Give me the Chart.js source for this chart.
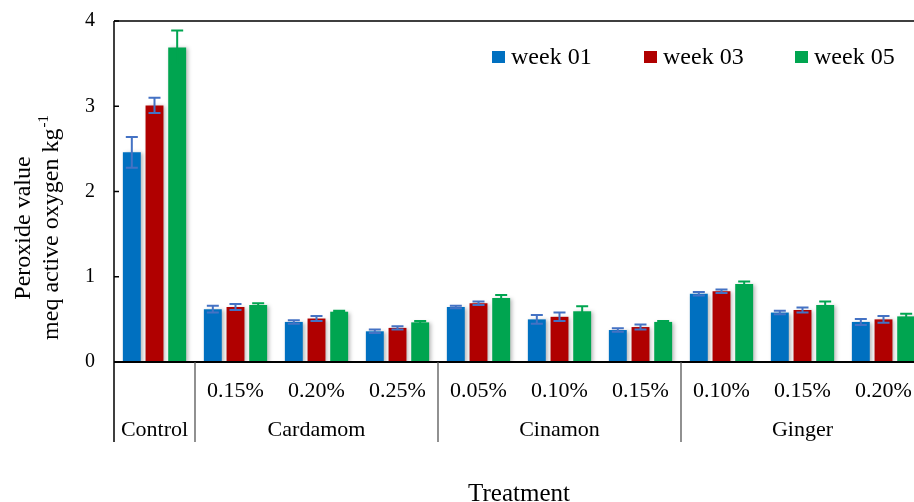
<!DOCTYPE html>
<html>
<head>
<meta charset="utf-8">
<script src="https://cdn.jsdelivr.net/npm/chart.js"></script>
<style>
  html, body { margin: 0; padding: 0; background: #fff; overflow: hidden; }
  #wrap { width: 924px; height: 502px; }
</style>
</head>
<body>
<div id="wrap"><canvas id="myChart"></canvas></div>
<script>
// tick labels under each bar group, and the treatment groups below them
const concentrations = ['', '0.15%', '0.20%', '0.25%', '0.05%', '0.10%', '0.15%', '0.10%', '0.15%', '0.20%'];
const groupNames = ['Control', 'Cardamom', 'Cinamon', 'Ginger'];
const groupSizes = [1, 3, 3, 3];

const seriesNames = ['week 01', 'week 03', 'week 05'];

const week01 = [2.46, 0.62, 0.47, 0.36, 0.645, 0.50, 0.375, 0.80, 0.58, 0.47];
const week03 = [3.01, 0.645, 0.51, 0.40, 0.69, 0.53, 0.41, 0.83, 0.61, 0.50];
const week05 = [3.69, 0.67, 0.59, 0.465, 0.75, 0.595, 0.47, 0.915, 0.67, 0.535];

// standard deviation for the error bars
const week01Err = [0.18, 0.04, 0.02, 0.02, 0.015, 0.05, 0.02, 0.02, 0.02, 0.035];
const week03Err = [0.09, 0.035, 0.03, 0.02, 0.02, 0.05, 0.03, 0.02, 0.03, 0.04];
const week05Err = [0.20, 0.02, 0.01, 0.015, 0.035, 0.06, 0.01, 0.03, 0.04, 0.03];

const yTicks = [0, 1, 2, 3, 4];

const colors = ['#0070C0', '#B00000', '#00A550'];
const errColors = ['#4472C4', '#4472C4', '#00A550'];
const FONT = "'Liberation Serif', 'Times New Roman', serif";

const values = [week01, week03, week05];
const errors = [week01Err, week03Err, week05Err];

const overlay = {
  id: 'overlay',
  beforeDatasetsDraw(chart) {
    const ctx = chart.ctx;
    ctx.save();
    ctx.shadowColor = 'rgba(0,0,0,0.28)';
    ctx.shadowBlur = 4;
    ctx.shadowOffsetX = 2;
    ctx.shadowOffsetY = 1;
  },
  afterDatasetsDraw(chart) {
    const ctx = chart.ctx;
    ctx.restore();
    const y = chart.scales.y;
    // error bars
    for (let i = 0; i < values.length; i++) {
      const meta = chart.getDatasetMeta(i);
      ctx.save();
      ctx.strokeStyle = errColors[i];
      ctx.lineWidth = 2;
      meta.data.forEach((bar, j) => {
        const top = y.getPixelForValue(values[i][j] + errors[i][j]);
        const bot = y.getPixelForValue(values[i][j] - errors[i][j]);
        ctx.beginPath();
        ctx.moveTo(bar.x, top); ctx.lineTo(bar.x, bot);
        ctx.moveTo(bar.x - 6, top); ctx.lineTo(bar.x + 6, top);
        ctx.moveTo(bar.x - 6, bot); ctx.lineTo(bar.x + 6, bot);
        ctx.stroke();
      });
      ctx.restore();
    }
  },
  afterDraw(chart) {
    const ctx = chart.ctx;
    const a = chart.chartArea;
    const x = chart.scales.x;
    const y = chart.scales.y;
    const catW = (a.right - a.left) / concentrations.length;
    ctx.save();

    // frame: top and left lines
    ctx.strokeStyle = '#000';
    ctx.lineWidth = 1.5;
    ctx.beginPath();
    ctx.moveTo(a.left, a.top); ctx.lineTo(a.right, a.top);
    ctx.moveTo(a.left, a.top); ctx.lineTo(a.left, 442);
    ctx.stroke();
    // inner tick marks on y
    yTicks.forEach(v => {
      const py = y.getPixelForValue(v);
      ctx.beginPath();
      ctx.moveTo(a.left, py); ctx.lineTo(a.left + 5, py);
      ctx.stroke();
    });
    // x axis line
    ctx.lineWidth = 2;
    ctx.beginPath();
    ctx.moveTo(a.left, a.bottom); ctx.lineTo(a.right, a.bottom);
    ctx.stroke();

    // group separators
    ctx.strokeStyle = '#555';
    ctx.lineWidth = 1.3;
    let idx = 0;
    groupSizes.forEach(n => {
      idx += n;
      const px = a.left + idx * catW;
      ctx.beginPath();
      ctx.moveTo(px, a.bottom); ctx.lineTo(px, 442);
      ctx.stroke();
    });

    // concentration labels
    ctx.fillStyle = '#000';
    ctx.textAlign = 'center';
    ctx.textBaseline = 'alphabetic';
    ctx.font = '22px ' + FONT;
    concentrations.forEach((c, i) => {
      ctx.fillText(c, x.getPixelForValue(i), 397);
    });
    // group labels
    idx = 0;
    groupNames.forEach((g, k) => {
      const cx = a.left + (idx + groupSizes[k] / 2) * catW;
      ctx.fillText(g, cx, 436);
      idx += groupSizes[k];
    });
    // x title
    ctx.font = '25px ' + FONT;
    ctx.fillText('Treatment', (a.left + a.right) / 2, 501);

    // y title (two lines, rotated)
    ctx.save();
    ctx.translate(0, 228);
    ctx.rotate(-Math.PI / 2);
    ctx.textAlign = 'center';
    ctx.font = '24px ' + FONT;
    ctx.fillText('Peroxide value', 0, 30);
    const main = 'meq active oxygen kg';
    const w1 = ctx.measureText(main).width;
    ctx.font = '15px ' + FONT;
    const w2 = ctx.measureText('-1').width;
    const start = -(w1 + w2) / 2;
    ctx.textAlign = 'left';
    ctx.font = '24px ' + FONT;
    ctx.fillText(main, start, 58);
    ctx.font = '15px ' + FONT;
    ctx.fillText('-1', start + w1 + 1, 48);
    ctx.restore();

    // legend inside the plot
    const legX = [492, 644, 795];
    ctx.font = '24px ' + FONT;
    ctx.textAlign = 'left';
    seriesNames.forEach((s, i) => {
      ctx.fillStyle = colors[i];
      ctx.fillRect(legX[i], 51, 13, 12);
      ctx.fillStyle = '#000';
      ctx.fillText(s, legX[i] + 19, 63.5);
    });

    ctx.restore();
  }
};

const ctx = document.getElementById('myChart');
new Chart(ctx, {
  type: 'bar',
  data: {
    labels: concentrations,
    datasets: seriesNames.map((s, i) => ({
      label: s,
      data: values[i],
      backgroundColor: colors[i],
      borderWidth: 0,
      categoryPercentage: 0.84,
      barPercentage: 0.79
    }))
  },
  options: {
    responsive: true,
    maintainAspectRatio: false,
    animation: false,
    devicePixelRatio: 1,
    layout: { padding: { top: 21, right: 0, bottom: 0, left: 0 } },
    plugins: {
      legend: { display: false },
      tooltip: { enabled: false }
    },
    scales: {
      x: {
        offset: true,
        grid: { display: false },
        border: { display: false },
        ticks: { display: false },
        afterFit(s) { s.height = 140; }
      },
      y: {
        min: 0,
        max: 4,
        grid: { display: false, drawTicks: false },
        border: { display: false },
        afterFit(s) {
          s.width = 114;
          s.paddingTop = 0;
          s.paddingBottom = 0;
        },
        afterBuildTicks(s) { s.ticks = yTicks.map(v => ({ value: v })); },
        ticks: {
          padding: 19,
          color: '#000',
          font: { family: FONT, size: 20 }
        }
      }
    }
  },
  plugins: [overlay]
});
</script>
</body>
</html>
